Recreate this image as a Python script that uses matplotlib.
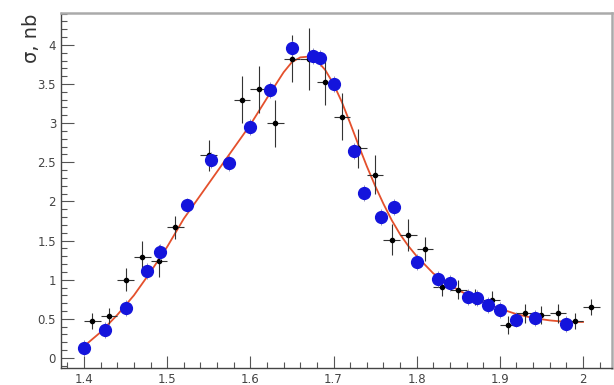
import numpy as np
import matplotlib
matplotlib.use("Agg")
import matplotlib.pyplot as plt
from matplotlib.ticker import MultipleLocator, FuncFormatter

# blue data set (full circles)
blue_x = [1.400, 1.425, 1.450, 1.476, 1.491, 1.524, 1.553, 1.574, 1.600, 1.624,
          1.650, 1.675, 1.684, 1.700, 1.725, 1.737, 1.757, 1.773, 1.800, 1.826,
          1.840, 1.862, 1.873, 1.886, 1.900, 1.919, 1.942, 1.980]
blue_y = [0.13, 0.36, 0.64, 1.11, 1.35, 1.95, 2.53, 2.49, 2.95, 3.42,
          3.96, 3.86, 3.83, 3.50, 2.64, 2.11, 1.80, 1.93, 1.23, 1.01,
          0.96, 0.78, 0.77, 0.68, 0.61, 0.49, 0.51, 0.43]

# black data set (crosses with errors)
blk_x = [1.41, 1.43, 1.45, 1.47, 1.49, 1.51, 1.55, 1.59, 1.61, 1.63,
         1.65, 1.67, 1.69, 1.71, 1.73, 1.75, 1.77, 1.79, 1.81, 1.83,
         1.85, 1.87, 1.89, 1.91, 1.93, 1.95, 1.97, 1.99, 2.01]
blk_y = [0.47, 0.54, 1.00, 1.29, 1.24, 1.67, 2.59, 3.30, 3.43, 3.00,
         3.82, 3.82, 3.53, 3.08, 2.68, 2.34, 1.51, 1.57, 1.39, 0.91,
         0.87, 0.78, 0.74, 0.42, 0.57, 0.55, 0.57, 0.47, 0.65]
blk_err = [0.10, 0.10, 0.15, 0.20, 0.20, 0.15, 0.20, 0.30, 0.30, 0.30,
           0.30, 0.40, 0.30, 0.30, 0.25, 0.25, 0.20, 0.20, 0.15, 0.12,
           0.12, 0.10, 0.12, 0.12, 0.12, 0.12, 0.12, 0.10, 0.10]

# fit curve
fit_x = [1.40, 1.42, 1.44, 1.46, 1.48, 1.50, 1.52, 1.54, 1.56, 1.58,
         1.60, 1.62, 1.64, 1.65, 1.66, 1.67, 1.68, 1.69, 1.70, 1.71,
         1.72, 1.73, 1.74, 1.75, 1.76, 1.77, 1.78, 1.79, 1.80, 1.82,
         1.84, 1.86, 1.88, 1.90, 1.92, 1.94, 1.96, 1.98, 2.00]
fit_y = [0.15, 0.33, 0.55, 0.80, 1.10, 1.42, 1.78, 2.08, 2.38, 2.68,
         2.98, 3.32, 3.65, 3.78, 3.84, 3.85, 3.80, 3.68, 3.50, 3.27,
         3.00, 2.72, 2.45, 2.20, 1.97, 1.76, 1.58, 1.43, 1.30, 1.08,
         0.93, 0.81, 0.71, 0.63, 0.56, 0.51, 0.48, 0.46, 0.46]


def main():
    fig = plt.figure(figsize=(6.14, 3.85), dpi=100)
    ax = fig.add_axes([0.0993, 0.0442, 0.8974, 0.9218])

    ax.plot(fit_x, fit_y, color="#e4502c", lw=1.3, zorder=2)
    ax.errorbar(blk_x, blk_y, yerr=blk_err, xerr=0.01, fmt="o", ms=3,
                color="black", ecolor="#333333", elinewidth=0.8, capsize=0, zorder=3)
    ax.errorbar(blue_x, blue_y, yerr=0.1, fmt="o", ms=8.5, color="#1414dc",
                ecolor="#8080b0", elinewidth=0.6, capsize=0, zorder=4)

    ax.set_xlim(1.3723, 2.0348)
    ax.set_ylim(-0.128, 4.406)
    ax.xaxis.set_major_locator(MultipleLocator(0.1))
    ax.xaxis.set_minor_locator(MultipleLocator(0.02))
    ax.yaxis.set_major_locator(MultipleLocator(0.5))
    ax.yaxis.set_minor_locator(MultipleLocator(0.1))
    fmt = FuncFormatter(lambda v, p: f"{v:g}")
    ax.xaxis.set_major_formatter(fmt)
    ax.yaxis.set_major_formatter(fmt)
    ax.tick_params(which="both", direction="in", top=False, right=False,
                   colors="#555555", labelsize=8.5, labelcolor="#444444")
    ax.tick_params(which="major", length=9, width=0.8)
    ax.tick_params(which="minor", length=4.5, width=0.8)

    for s in ("left", "bottom"):
        ax.spines[s].set_color("#444444")
        ax.spines[s].set_linewidth(1.0)
    for s in ("top", "right"):
        ax.spines[s].set_color("#aaaaaa")
        ax.spines[s].set_linewidth(1.8)

    fig.text(0.052, 0.965, "σ, nb", rotation=90, ha="center", va="top",
             fontsize=14, color="#333333")

    fig.savefig("out.png", dpi=100)
    plt.close(fig)


if __name__ == "__main__":
    main()
